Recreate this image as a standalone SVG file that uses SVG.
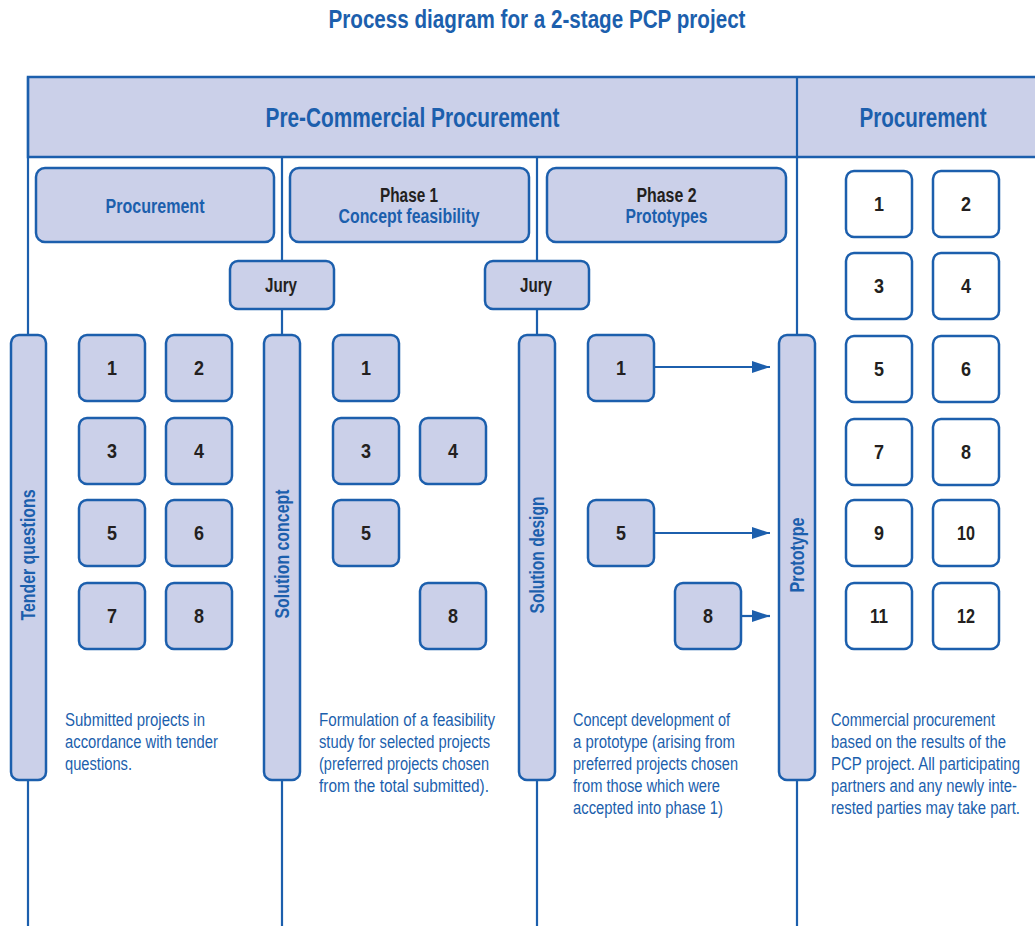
<svg xmlns="http://www.w3.org/2000/svg" width="1035" height="926" viewBox="0 0 1035 926">
<defs>
<style>
text{font-family:"Liberation Sans",Arial,sans-serif;}
.ln{stroke:#1c5fad;stroke-width:2.2;fill:none}
.bx{fill:#cbd0e9;stroke:#1c5fad;stroke-width:2.5}
.wb{fill:#ffffff;stroke:#1c5fad;stroke-width:2.5}
.blue{fill:#1c5fad;font-weight:bold}
.dark{fill:#231f20;font-weight:bold}
.num{fill:#231f20;font-weight:bold;font-size:20px;text-anchor:middle}
.desc{fill:#1c5fad;font-size:17.5px}
.mid{text-anchor:middle}
</style>
<marker id="ah" markerWidth="18" markerHeight="12" refX="18" refY="6" orient="auto" markerUnits="userSpaceOnUse">
<path d="M0,0 L18,6 L0,12 Z" fill="#1c5fad"/>
</marker>
</defs>
<rect width="1035" height="926" fill="#ffffff"/>
<text x="537" y="27.5" class="blue mid" font-size="25" textLength="417" lengthAdjust="spacingAndGlyphs">Process diagram for a 2-stage PCP project</text>

<g id="header">
<rect x="28" y="77" width="1010" height="80" class="bx"/>
<text x="412.5" y="127" class="blue mid" font-size="27.5" textLength="294" lengthAdjust="spacingAndGlyphs">Pre-Commercial Procurement</text>
<text x="923" y="127" class="blue mid" font-size="27.5" textLength="127" lengthAdjust="spacingAndGlyphs">Procurement</text>
</g>

<g id="connectors">
<line x1="28" y1="77" x2="28" y2="926" class="ln"/>
<line x1="282" y1="157" x2="282" y2="926" class="ln"/>
<line x1="537" y1="157" x2="537" y2="926" class="ln"/>
<line x1="797" y1="77" x2="797" y2="926" class="ln"/>
<line x1="654" y1="367" x2="770" y2="367" class="ln" marker-end="url(#ah)"/>
<line x1="654" y1="533" x2="770" y2="533" class="ln" marker-end="url(#ah)"/>
<line x1="741" y1="616" x2="770" y2="616" class="ln" marker-end="url(#ah)"/>
</g>

<g id="phase-procurement">
<rect x="36" y="168" width="238" height="74" rx="9" class="bx"/>
<text x="155" y="213" class="blue mid" font-size="20" textLength="99" lengthAdjust="spacingAndGlyphs">Procurement</text>
</g>
<g id="phase-1">
<rect x="290" y="168" width="239" height="74" rx="9" class="bx"/>
<text x="409" y="201.5" class="dark mid" font-size="20" textLength="58" lengthAdjust="spacingAndGlyphs">Phase 1</text>
<text x="409" y="223" class="blue mid" font-size="20" textLength="141" lengthAdjust="spacingAndGlyphs">Concept feasibility</text>
</g>
<g id="phase-2">
<rect x="547" y="168" width="239" height="74" rx="9" class="bx"/>
<text x="666.5" y="201.5" class="dark mid" font-size="20" textLength="60" lengthAdjust="spacingAndGlyphs">Phase 2</text>
<text x="666.5" y="223" class="blue mid" font-size="20" textLength="82" lengthAdjust="spacingAndGlyphs">Prototypes</text>
</g>

<g id="jury-1">
<rect x="230" y="261" width="104" height="48" rx="8" class="bx"/>
<text x="281" y="292" class="dark mid" font-size="20" textLength="32" lengthAdjust="spacingAndGlyphs">Jury</text>
</g>
<g id="jury-2">
<rect x="485" y="261" width="104" height="48" rx="8" class="bx"/>
<text x="536" y="292" class="dark mid" font-size="20" textLength="32" lengthAdjust="spacingAndGlyphs">Jury</text>
</g>

<g id="bar-tender">
<rect x="11" y="335" width="35" height="445" rx="8" class="bx"/>
<text transform="translate(35,555) rotate(-90)" class="blue mid" font-size="19.5" textLength="131" lengthAdjust="spacingAndGlyphs">Tender questions</text>
</g>
<g id="bar-solution-concept">
<rect x="264" y="335" width="36" height="445" rx="8" class="bx"/>
<text transform="translate(289,554) rotate(-90)" class="blue mid" font-size="19.5" textLength="129" lengthAdjust="spacingAndGlyphs">Solution concept</text>
</g>
<g id="bar-solution-design">
<rect x="519" y="335" width="36" height="445" rx="8" class="bx"/>
<text transform="translate(544,555) rotate(-90)" class="blue mid" font-size="19.5" textLength="117" lengthAdjust="spacingAndGlyphs">Solution design</text>
</g>
<g id="bar-prototype">
<rect x="779" y="335" width="36" height="445" rx="8" class="bx"/>
<text transform="translate(804,555) rotate(-90)" class="blue mid" font-size="19.5" textLength="75" lengthAdjust="spacingAndGlyphs">Prototype</text>
</g>

<g id="tender-projects">
<g id="t1"><rect x="79" y="335" width="66" height="66" rx="8" class="bx"/><text x="112" y="375" class="num" textLength="10" lengthAdjust="spacingAndGlyphs">1</text></g>
<g id="t2"><rect x="166" y="335" width="66" height="66" rx="8" class="bx"/><text x="199" y="375" class="num" textLength="10" lengthAdjust="spacingAndGlyphs">2</text></g>
<g id="t3"><rect x="79" y="418" width="66" height="66" rx="8" class="bx"/><text x="112" y="458" class="num" textLength="10" lengthAdjust="spacingAndGlyphs">3</text></g>
<g id="t4"><rect x="166" y="418" width="66" height="66" rx="8" class="bx"/><text x="199" y="458" class="num" textLength="10" lengthAdjust="spacingAndGlyphs">4</text></g>
<g id="t5"><rect x="79" y="500" width="66" height="66" rx="8" class="bx"/><text x="112" y="540" class="num" textLength="10" lengthAdjust="spacingAndGlyphs">5</text></g>
<g id="t6"><rect x="166" y="500" width="66" height="66" rx="8" class="bx"/><text x="199" y="540" class="num" textLength="10" lengthAdjust="spacingAndGlyphs">6</text></g>
<g id="t7"><rect x="79" y="583" width="66" height="66" rx="8" class="bx"/><text x="112" y="623" class="num" textLength="10" lengthAdjust="spacingAndGlyphs">7</text></g>
<g id="t8"><rect x="166" y="583" width="66" height="66" rx="8" class="bx"/><text x="199" y="623" class="num" textLength="10" lengthAdjust="spacingAndGlyphs">8</text></g>
</g>

<g id="phase1-projects">
<g id="c1"><rect x="333" y="335" width="66" height="66" rx="8" class="bx"/><text x="366" y="375" class="num" textLength="10" lengthAdjust="spacingAndGlyphs">1</text></g>
<g id="c3"><rect x="333" y="418" width="66" height="66" rx="8" class="bx"/><text x="366" y="458" class="num" textLength="10" lengthAdjust="spacingAndGlyphs">3</text></g>
<g id="c4"><rect x="420" y="418" width="66" height="66" rx="8" class="bx"/><text x="453" y="458" class="num" textLength="10" lengthAdjust="spacingAndGlyphs">4</text></g>
<g id="c5"><rect x="333" y="500" width="66" height="66" rx="8" class="bx"/><text x="366" y="540" class="num" textLength="10" lengthAdjust="spacingAndGlyphs">5</text></g>
<g id="c8"><rect x="420" y="583" width="66" height="66" rx="8" class="bx"/><text x="453" y="623" class="num" textLength="10" lengthAdjust="spacingAndGlyphs">8</text></g>
</g>

<g id="phase2-projects">
<g id="d1"><rect x="588" y="335" width="66" height="66" rx="8" class="bx"/><text x="621" y="375" class="num" textLength="10" lengthAdjust="spacingAndGlyphs">1</text></g>
<g id="d5"><rect x="588" y="500" width="66" height="66" rx="8" class="bx"/><text x="621" y="540" class="num" textLength="10" lengthAdjust="spacingAndGlyphs">5</text></g>
<g id="d8"><rect x="675" y="583" width="66" height="66" rx="8" class="bx"/><text x="708" y="623" class="num" textLength="10" lengthAdjust="spacingAndGlyphs">8</text></g>
</g>

<g id="procurement-projects">
<g id="p1"><rect x="846" y="171" width="66" height="66" rx="8" class="wb"/><text x="879" y="211" class="num" textLength="10" lengthAdjust="spacingAndGlyphs">1</text></g>
<g id="p2"><rect x="933" y="171" width="66" height="66" rx="8" class="wb"/><text x="966" y="211" class="num" textLength="10" lengthAdjust="spacingAndGlyphs">2</text></g>
<g id="p3"><rect x="846" y="253" width="66" height="66" rx="8" class="wb"/><text x="879" y="293" class="num" textLength="10" lengthAdjust="spacingAndGlyphs">3</text></g>
<g id="p4"><rect x="933" y="253" width="66" height="66" rx="8" class="wb"/><text x="966" y="293" class="num" textLength="10" lengthAdjust="spacingAndGlyphs">4</text></g>
<g id="p5"><rect x="846" y="336" width="66" height="66" rx="8" class="wb"/><text x="879" y="376" class="num" textLength="10" lengthAdjust="spacingAndGlyphs">5</text></g>
<g id="p6"><rect x="933" y="336" width="66" height="66" rx="8" class="wb"/><text x="966" y="376" class="num" textLength="10" lengthAdjust="spacingAndGlyphs">6</text></g>
<g id="p7"><rect x="846" y="419" width="66" height="66" rx="8" class="wb"/><text x="879" y="459" class="num" textLength="10" lengthAdjust="spacingAndGlyphs">7</text></g>
<g id="p8"><rect x="933" y="419" width="66" height="66" rx="8" class="wb"/><text x="966" y="459" class="num" textLength="10" lengthAdjust="spacingAndGlyphs">8</text></g>
<g id="p9"><rect x="846" y="500" width="66" height="66" rx="8" class="wb"/><text x="879" y="540" class="num" textLength="10" lengthAdjust="spacingAndGlyphs">9</text></g>
<g id="p10"><rect x="933" y="500" width="66" height="66" rx="8" class="wb"/><text x="966" y="540" class="num" textLength="18" lengthAdjust="spacingAndGlyphs">10</text></g>
<g id="p11"><rect x="846" y="583" width="66" height="66" rx="8" class="wb"/><text x="879" y="623" class="num" textLength="18" lengthAdjust="spacingAndGlyphs">11</text></g>
<g id="p12"><rect x="933" y="583" width="66" height="66" rx="8" class="wb"/><text x="966" y="623" class="num" textLength="18" lengthAdjust="spacingAndGlyphs">12</text></g>
</g>

<g id="descriptions">
<g id="desc-1">
<text class="desc" x="65" y="726" textLength="140" lengthAdjust="spacingAndGlyphs">Submitted projects in</text>
<text class="desc" x="65" y="748" textLength="153" lengthAdjust="spacingAndGlyphs">accordance with tender</text>
<text class="desc" x="65" y="770" textLength="67" lengthAdjust="spacingAndGlyphs">questions.</text>
</g>
<g id="desc-2">
<text class="desc" x="319" y="726" textLength="176" lengthAdjust="spacingAndGlyphs">Formulation of a feasibility</text>
<text class="desc" x="319" y="748" textLength="171" lengthAdjust="spacingAndGlyphs">study for selected projects</text>
<text class="desc" x="319" y="770" textLength="170" lengthAdjust="spacingAndGlyphs">(preferred projects chosen</text>
<text class="desc" x="319" y="792" textLength="170" lengthAdjust="spacingAndGlyphs">from the total submitted).</text>
</g>
<g id="desc-3">
<text class="desc" x="573" y="726" textLength="157" lengthAdjust="spacingAndGlyphs">Concept development of</text>
<text class="desc" x="573" y="748" textLength="162" lengthAdjust="spacingAndGlyphs">a prototype (arising from</text>
<text class="desc" x="573" y="770" textLength="165" lengthAdjust="spacingAndGlyphs">preferred projects chosen</text>
<text class="desc" x="573" y="792" textLength="147" lengthAdjust="spacingAndGlyphs">from those which were</text>
<text class="desc" x="573" y="814" textLength="150" lengthAdjust="spacingAndGlyphs">accepted into phase 1)</text>
</g>
<g id="desc-4">
<text class="desc" x="831" y="726" textLength="164" lengthAdjust="spacingAndGlyphs">Commercial procurement</text>
<text class="desc" x="831" y="748" textLength="175" lengthAdjust="spacingAndGlyphs">based on the results of the</text>
<text class="desc" x="831" y="770" textLength="189" lengthAdjust="spacingAndGlyphs">PCP project. All participating</text>
<text class="desc" x="831" y="792" textLength="186" lengthAdjust="spacingAndGlyphs">partners and any newly inte-</text>
<text class="desc" x="831" y="814" textLength="189" lengthAdjust="spacingAndGlyphs">rested parties may take part.</text>
</g>
</g>
</svg>
